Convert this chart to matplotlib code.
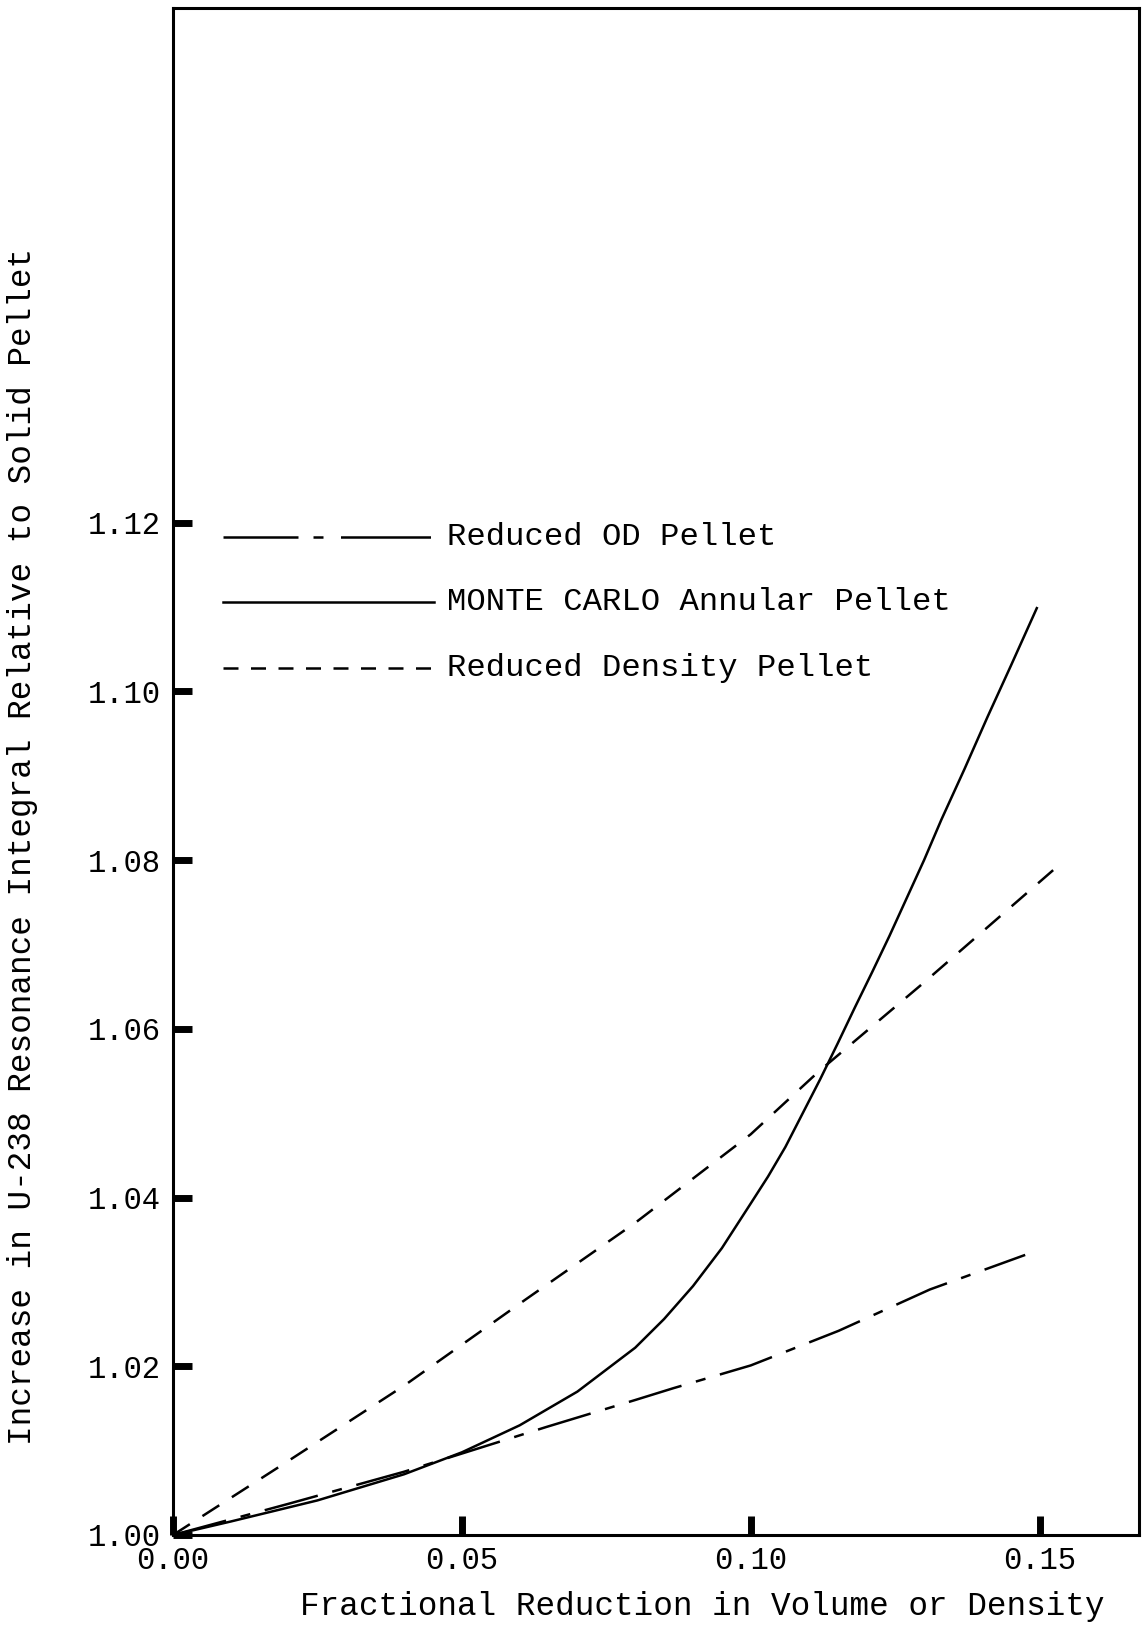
import matplotlib
matplotlib.use("Agg")
import matplotlib.pyplot as plt

# ---- data ----
mc_x = [0.000, 0.010, 0.025, 0.040, 0.050, 0.060, 0.070, 0.080, 0.085, 0.090, 0.095,
        0.100, 0.103, 0.106, 0.109, 0.112, 0.115, 0.118, 0.121, 0.124, 0.127, 0.130,
        0.133, 0.137, 0.141, 0.145, 0.1496]
mc_y = [1.0000, 1.0016, 1.0041, 1.0072, 1.0098, 1.0130, 1.0170, 1.0222, 1.0256, 1.0295, 1.0340,
        1.0393, 1.0425, 1.0460, 1.0500, 1.0540, 1.0582, 1.0625, 1.0667, 1.0710, 1.0755, 1.0800,
        1.0848, 1.0908, 1.0970, 1.1030, 1.1100]

rd_x = [0.000, 0.020, 0.040, 0.061, 0.080, 0.100, 0.1117, 0.130, 0.153]
rd_y = [1.0000, 1.0088, 1.0177, 1.0279, 1.0370, 1.0475, 1.0549, 1.0655, 1.0792]

od_x = [0.000, 0.020, 0.040, 0.053, 0.0646, 0.080, 0.0866, 0.100, 0.1152, 0.131, 0.1475]
od_y = [1.0000, 1.0037, 1.0075, 1.0103, 1.0128, 1.0160, 1.0174, 1.0201, 1.0242, 1.0291, 1.0332]

x_ticks = [0.00, 0.05, 0.10, 0.15]
x_tick_labels = ["0.00", "0.05", "0.10", "0.15"]
y_ticks = [1.00, 1.02, 1.04, 1.06, 1.08, 1.10, 1.12]
y_tick_labels = ["1.00", "1.02", "1.04", "1.06", "1.08", "1.10", "1.12"]

labels = ["Reduced OD Pellet", "MONTE CARLO Annular Pellet", "Reduced Density Pellet"]
x_label = "Fractional Reduction in Volume or Density"
y_label = "Increase in U-238 Resonance Integral Relative to Solid Pellet"

# ---- styling ----
FONT = "Liberation Mono"
FS_TICK = 22
FS_LEG = 23.2
FS_LAB = 23.5
LW = 1.8
od_dash = (22, 6, 4, 6)
rd_dash = (8, 6)

W, H = 1147, 1625
fig = plt.figure(figsize=(W / 100, H / 100), dpi=100)
ax = fig.add_axes([173 / W, 1 - 1535 / H, (1139 - 173) / W, (1535 - 8) / H])

ax.plot(mc_x, mc_y, color="black", lw=LW, solid_capstyle="butt", solid_joinstyle="round")
ax.plot(rd_x, rd_y, color="black", lw=LW, dashes=rd_dash)
ax.plot(od_x, od_y, color="black", lw=LW, dashes=od_dash)

ax.set_xlim(0, 0.1672)
ax.set_ylim(1.0, 1.181)

ax.set_xticks(x_ticks)
ax.set_xticklabels(x_tick_labels, family=FONT, fontsize=FS_TICK)
ax.set_yticks(y_ticks)
ax.set_yticklabels(y_tick_labels, family=FONT, fontsize=FS_TICK)
ax.tick_params(axis="both", direction="in", length=14, width=5, color="black")
ax.tick_params(axis="x", pad=8)
ax.tick_params(axis="y", pad=9)

for s in ax.spines.values():
    s.set_linewidth(2.2)
    s.set_color("black")

# legend drawn inside the axes
leg_y = [1.1183, 1.1106, 1.1028]
leg_styles = [dict(dashes=(30, 6, 4, 7, 36, 60)), dict(), dict(dashes=(6, 5))]
for lab, yy, st in zip(labels, leg_y, leg_styles):
    ax.plot([0.0087, 0.0452], [yy, yy], color="black", lw=LW, **st)
    ax.text(0.0474, yy, lab, family=FONT, fontsize=FS_LEG, va="center", ha="left")

fig.text(702 / W, 1 - 1606 / H, x_label, family=FONT, fontsize=FS_LAB, ha="center", va="center")
fig.text(23 / W, 1 - 846 / H, y_label, family=FONT, fontsize=FS_LAB, ha="center", va="center",
         rotation=90)

fig.savefig("out.png", dpi=100)
